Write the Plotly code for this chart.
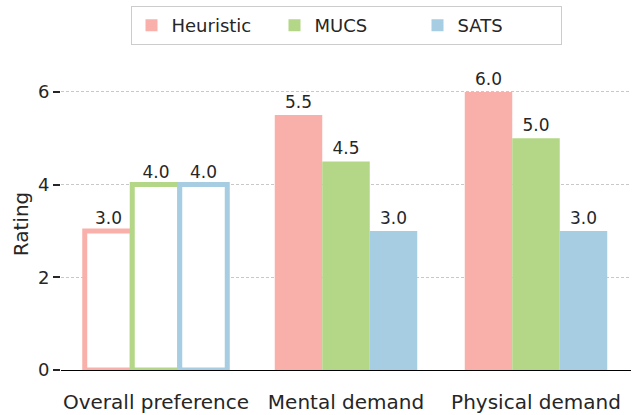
import plotly.graph_objects as go

categories = ["Overall preference", "Mental demand", "Physical demand"]
series_names = ["Heuristic", "MUCS", "SATS"]
heuristic = [3.0, 5.5, 6.0]
mucs = [4.0, 4.5, 5.0]
sats = [4.0, 3.0, 3.0]
colors = ["#f9b0aa", "#b3d786", "#a6cde2"]
y_ticks = [0, 2, 4, 6]
outlined_categories = ["Overall preference"]

FONT = "DejaVu Sans"
TXT = "#262626"

fig = go.Figure()
for name, vals, col in zip(series_names, [heuristic, mucs, sats], colors):
    for outlined in (False, True):
        xs = [c for c in categories if (c in outlined_categories) == outlined]
        ys = [v for c, v in zip(categories, vals) if (c in outlined_categories) == outlined]
        fig.add_trace(go.Bar(
            name=name, x=xs, y=ys, offsetgroup=name, legendgroup=name,
            showlegend=not outlined,
            marker=dict(
                color="white" if outlined else col,
                line=dict(color=col, width=5 if outlined else 0),
            ),
            text=[f"{v:.1f}" for v in ys],
            textposition="outside",
            textfont=dict(family=FONT, size=17, color=TXT),
            cliponaxis=False,
        ))

fig.update_layout(
    width=637, height=415,
    margin=dict(l=61, r=6, t=78, b=45),
    paper_bgcolor="white", plot_bgcolor="white",
    barmode="group", bargap=0.25, bargroupgap=0,
    font=dict(family=FONT, color=TXT, size=18),
    showlegend=True,
    legend=dict(
        orientation="h", x=0.5, xanchor="center", y=1.18, yanchor="middle",
        bordercolor="#cccccc", borderwidth=1, font=dict(size=18, color=TXT),
        entrywidth=98, traceorder="normal",
    ),
)
fig.update_xaxes(
    showgrid=False, showline=True, linecolor="black", linewidth=1.2,
    ticks="outside", ticklen=14, tickcolor="rgba(0,0,0,0)",
    tickfont=dict(size=20, color=TXT), range=[-0.5, 2.5],
    categoryorder="array", categoryarray=categories, automargin=False,
)
fig.update_yaxes(
    range=[0, 6.3], tickvals=y_ticks, ticktext=[str(t) for t in y_ticks],
    showgrid=True, gridcolor="#c8c8c8", griddash="3px,2px", gridwidth=1,
    showline=False, zeroline=False, automargin=False,
    ticks="outside", ticklen=7, tickcolor="#262626", tickwidth=1.5,
    tickfont=dict(size=18, color=TXT),
    title=dict(text="Rating", font=dict(size=20, color=TXT), standoff=3),
)
fig.write_html("out.html", config={"displayModeBar": False},
               post_script="document.body.style.margin='0';")
